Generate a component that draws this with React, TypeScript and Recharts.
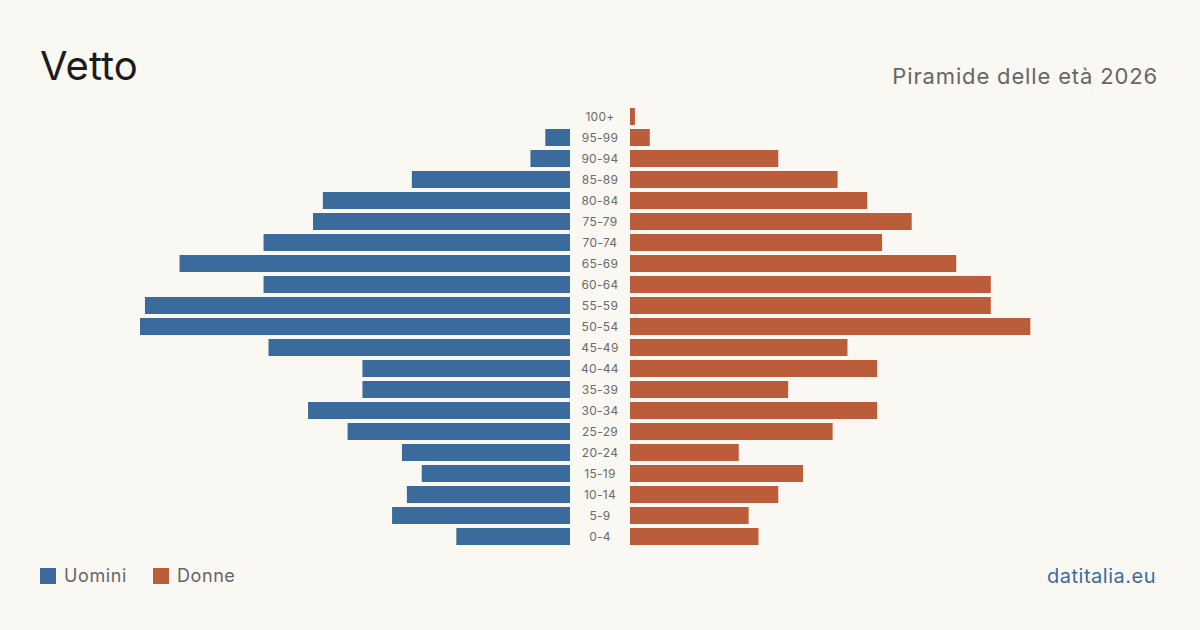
import { BarChart, Bar, XAxis, YAxis } from "recharts";

const ages = [
  "100+", "95-99", "90-94", "85-89", "80-84", "75-79", "70-74",
  "65-69", "60-64", "55-59", "50-54", "45-49", "40-44", "35-39",
  "30-34", "25-29", "20-24", "15-19", "10-14", "5-9", "0-4",
];
const uomini = [0, 5, 8, 32, 50, 52, 62, 79, 62, 86, 87, 61, 42, 42, 53, 45, 34, 30, 33, 36, 23];
const donne = [1, 4, 30, 42, 48, 57, 51, 66, 73, 73, 81, 44, 50, 32, 50, 41, 22, 35, 30, 24, 26];

const BLUE = "#3b6b9c";
const RED = "#bb5c3b";
const BG = "#faf8f3";
const FONT = "Inter, 'Noto Sans', sans-serif";

const data = ages.map((age, i) => ({ age, uomini: uomini[i], donne: donne[i] }));
const maxVal = Math.max(...uomini, ...donne);

const PLOT_TOP = 106;
const PLOT_H = 441;
const SIDE_W = 430;
const MID_W = 60;

// age label centred in the gap between the two halves
function AgeTick(props: any) {
  const { y, payload } = props;
  return (
    <text
      x={MID_W / 2}
      y={y}
      dy={4}
      textAnchor="middle"
      fontSize={12}
      fill="#6a6a6a"
      fontFamily={FONT}
      letterSpacing={0.3}
    >
      {payload.value}
    </text>
  );
}

export default function App() {
  return (
    <div
      style={{
        position: "relative",
        width: 1200,
        height: 630,
        background: BG,
        fontFamily: FONT,
        overflow: "hidden",
      }}
    >
      <style>{`body{margin:0}`}</style>
      <div
        style={{
          position: "absolute",
          left: 40,
          top: 44,
          fontSize: 40,
          color: "#1c1c1c",
          lineHeight: "44px",
        }}
      >
        Vetto
      </div>
      <div
        style={{
          position: "absolute",
          right: 42,
          top: 63,
          fontSize: 22,
          color: "#666",
          lineHeight: "26px",
          letterSpacing: 0.85,
        }}
      >
        Piramide delle età 2026
      </div>

      {/* uomini: reversed axis, bars grow leftwards from the centre */}
      <div style={{ position: "absolute", left: 600 - MID_W / 2 - SIDE_W, top: PLOT_TOP }}>
        <BarChart
          width={SIDE_W}
          height={PLOT_H}
          data={data}
          layout="vertical"
          margin={{ top: 0, right: 0, bottom: 0, left: 0 }}
        >
          <XAxis type="number" domain={[0, maxVal]} reversed hide />
          <YAxis type="category" dataKey="age" hide />
          <Bar dataKey="uomini" fill={BLUE} barSize={17} isAnimationActive={false} />
        </BarChart>
      </div>

      {/* donne, with the age labels in the middle column */}
      <div style={{ position: "absolute", left: 600 - MID_W / 2, top: PLOT_TOP }}>
        <BarChart
          width={SIDE_W + MID_W}
          height={PLOT_H}
          data={data}
          layout="vertical"
          margin={{ top: 0, right: 0, bottom: 0, left: 0 }}
        >
          <XAxis type="number" domain={[0, maxVal]} hide />
          <YAxis
            type="category"
            dataKey="age"
            width={MID_W}
            axisLine={false}
            tickLine={false}
            interval={0}
            tick={<AgeTick />}
          />
          <Bar dataKey="donne" fill={RED} barSize={17} isAnimationActive={false} />
        </BarChart>
      </div>

      <div
        style={{
          position: "absolute",
          left: 40,
          top: 565,
          display: "flex",
          alignItems: "center",
          fontSize: 18,
          color: "#666",
          lineHeight: "22px",
          letterSpacing: 0.6,
        }}
      >
        <span style={{ width: 16, height: 16, background: BLUE, marginRight: 8 }} />
        <span style={{ marginRight: 26 }}>Uomini</span>
        <span style={{ width: 16, height: 16, background: RED, marginRight: 8 }} />
        <span>Donne</span>
      </div>
      <div
        style={{
          position: "absolute",
          right: 44,
          top: 564,
          fontSize: 20,
          color: BLUE,
          lineHeight: "24px",
          letterSpacing: 0.5,
        }}
      >
        datitalia.eu
      </div>
    </div>
  );
}
